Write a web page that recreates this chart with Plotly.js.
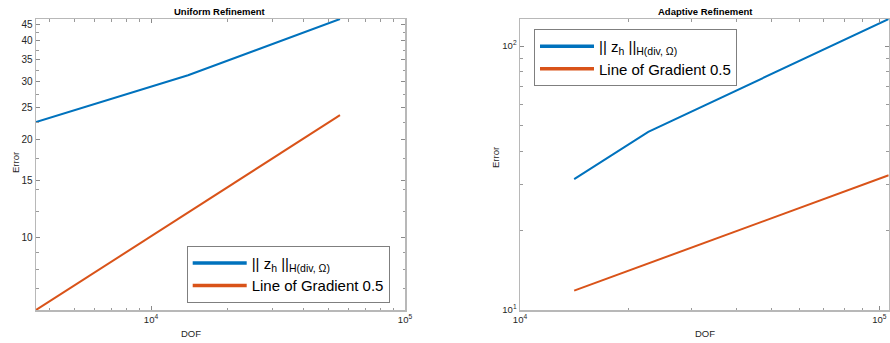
<!DOCTYPE html>
<html>
<head>
<meta charset="utf-8">
<script src="https://cdn.plot.ly/plotly-3.0.1.min.js"></script>
<style>html,body{margin:0;padding:0;background:#fff}#chart{width:890px;height:343px}</style>
</head>
<body>
<div id="chart"></div>
<script>
// ---- data ----
const uniformDOF = [3525, 13990, 55470];
const uniformNorm = [22.6, 31.4, 46.7];
const uniformGrad = [6.0, 11.95, 23.7];

const adaptiveDOF = [14150, 22750, 106200];
const adaptiveNorm = [31.3, 47.3, 126.6];
const adaptiveGrad = [11.84, 15.0, 32.4];

const titles = ["Uniform Refinement", "Adaptive Refinement"];
const legendNames = ["|| z<sub>h</sub> ||<sub>H(div, Ω)</sub>", "Line of Gradient 0.5"];
const xTickVals = [1e4, 1e5];
const xTickText = ["10<sup>4</sup>", "10<sup>5</sup>"];
const xMinor = [4000, 5000, 6000, 7000, 8000, 9000, 20000, 30000, 40000, 50000, 60000, 70000, 80000, 90000];
const yLeftTicks = [10, 15, 20, 25, 30, 35, 40, 45];
const yLeftMinor = [6, 7, 8, 9, 12, 14, 17.5, 22.5, 27.5, 32.5, 37.5, 42.5];
const yRightTicks = [10, 100];
const yRightText = ["10<sup>1</sup>", "10<sup>2</sup>"];
const yRightMinor = [20, 30, 40, 50, 60, 70, 80, 90];

const BLUE = "#0072BD", ORANGE = "#D95319";
const FONT = "Liberation Sans, Arial, Helvetica, sans-serif";

function line(x, y, color, xa, ya) {
  return {x: x, y: y, type: "scatter", mode: "lines", xaxis: xa, yaxis: ya,
          line: {color: color, width: 2}, showlegend: false, hoverinfo: "skip"};
}
function legendItem(name, color, xa, ya, lg) {
  return {x: [null], y: [null], type: "scatter", mode: "lines", xaxis: xa, yaxis: ya,
          name: name, legend: lg, line: {color: color, width: 3.5}, showlegend: true};
}

const data = [
  line(uniformDOF, uniformNorm, BLUE, "x", "y"),
  line(uniformDOF, uniformGrad, ORANGE, "x", "y"),
  legendItem(legendNames[0], BLUE, "x", "y", "legend"),
  legendItem(legendNames[1], ORANGE, "x", "y", "legend"),
  line(adaptiveDOF, adaptiveNorm, BLUE, "x2", "y2"),
  line(adaptiveDOF, adaptiveGrad, ORANGE, "x2", "y2"),
  legendItem(legendNames[0], BLUE, "x2", "y2", "legend2"),
  legendItem(legendNames[1], ORANGE, "x2", "y2", "legend2")
];

const axBase = {
  type: "log", showline: true, linecolor: "#b8b8b8", linewidth: 1.5, mirror: "allticks",
  ticks: "inside", ticklen: 4, tickcolor: "#8a8a8a", tickwidth: 1,
  showgrid: false, zeroline: false, tickmode: "array",
  tickfont: {family: FONT, size: 9.5, color: "#262626"},
  fixedrange: true
};
function ax(extra) { return Object.assign({}, axBase, extra); }
function minor(vals) { return {tickmode: "array", tickvals: vals, ticks: "inside", ticklen: 2.5, tickcolor: "#9a9a9a", showgrid: false}; }

function note(text, px, py, size, color, angle) {
  return {text: text, x: px/890, y: (343-py)/343, xref: "paper", yref: "paper", showarrow: false,
          xanchor: "center", yanchor: "middle", textangle: angle || 0,
          font: {family: FONT, size: size, color: color}};
}

const yDom = [33/343, 324/343];
const layout = {
  width: 890, height: 343,
  margin: {l: 0, r: 0, t: 0, b: 0},
  paper_bgcolor: "#fff", plot_bgcolor: "#fff",
  font: {family: FONT, color: "#262626"},
  xaxis: ax({domain: [36/890, 405/890], anchor: "y",
             range: [Math.log10(uniformDOF[0]), 5], tickvals: xTickVals, ticktext: xTickText, minor: minor(xMinor)}),
  yaxis: ax({domain: yDom, anchor: "x",
             range: [Math.log10(uniformGrad[0]), Math.log10(uniformNorm[2])], tickvals: yLeftTicks,
             ticktext: yLeftTicks.map(String), minor: minor(yLeftMinor), tickfont: {family: FONT, size: 10, color: "#262626"}}),
  xaxis2: ax({domain: [520/890, 888.7/890], anchor: "y2",
              range: [4, Math.log10(adaptiveDOF[2])], tickvals: xTickVals, ticktext: xTickText, minor: minor(xMinor)}),
  yaxis2: ax({domain: yDom, anchor: "x2",
              range: [1, Math.log10(adaptiveNorm[2])], tickvals: yRightTicks, ticktext: yRightText, minor: minor(yRightMinor)}),
  legend: {x: 186.7/890, y: (343-245.7)/343, xanchor: "left", yanchor: "top",
           bgcolor: "#fff", bordercolor: "#7f7f7f", borderwidth: 1, itemwidth: 54,
           font: {family: FONT, size: 15, color: "#000"}},
  legend2: {x: 534/890, y: (343-29)/343, xanchor: "left", yanchor: "top",
           bgcolor: "#fff", bordercolor: "#7f7f7f", borderwidth: 1, itemwidth: 54,
           font: {family: FONT, size: 15, color: "#000"}},
  annotations: [
    note("<b>" + titles[0] + "</b>", 220, 12, 9.5, "#000"),
    note("<b>" + titles[1] + "</b>", 705, 12, 9.5, "#000"),
    note("DOF", 191, 333, 9.5, "#262626"),
    note("DOF", 705, 333, 9.5, "#262626"),
    note("Error", 15, 163, 9.5, "#262626", -90),
    note("Error", 495, 158, 9.5, "#262626", -90)
  ]
};

Plotly.newPlot("chart", data, layout, {staticPlot: true, displayModeBar: false});
</script>
</body>
</html>
